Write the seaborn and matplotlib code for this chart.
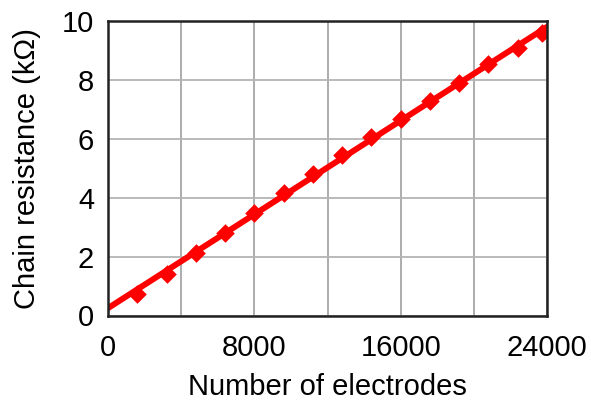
import matplotlib
matplotlib.use("Agg")
import matplotlib.pyplot as plt
import seaborn as sns
import pandas as pd

electrodes = [1600, 3200, 4800, 6400, 8000, 9600, 11200, 12800, 14400,
              16000, 17600, 19200, 20800, 22400, 23700]
resistance = [0.73, 1.41, 2.11, 2.81, 3.49, 4.15, 4.80, 5.45, 6.07,
              6.68, 7.28, 7.90, 8.53, 9.10, 9.58]
trend_x = [0, 24000]
trend_y = [0.25, 9.80]
x_ticks = [0, 8000, 16000, 24000]
x_grid = [0, 4000, 8000, 12000, 16000, 20000, 24000]
y_ticks = [0, 2, 4, 6, 8, 10]

sns.set_theme(style="white")
plt.rcParams['font.family'] = ['Liberation Sans', 'DejaVu Sans']

fig = plt.figure(figsize=(5.91, 4.01), dpi=100)
ax = fig.add_axes([108/591, 85.5/401, 439/591, 294.5/401])

df_pts = pd.DataFrame({"x": electrodes, "y": resistance})
df_fit = pd.DataFrame({"x": trend_x, "y": trend_y})

for gx in x_grid:
    ax.axvline(gx, color="#a6a6a6", lw=1.3, zorder=0)
for gy in y_ticks:
    ax.axhline(gy, color="#b4b4b4", lw=1.3, zorder=0)

sns.lineplot(data=df_fit, x="x", y="y", ax=ax, color="#ff0000", lw=4.3,
             zorder=3, legend=False)
sns.scatterplot(data=df_pts, x="x", y="y", ax=ax, marker="D", s=90,
                color="#ff0000", edgecolor="#ff0000", linewidth=0, zorder=4,
                legend=False)

ax.set_xlim(0, 24000)
ax.set_ylim(0, 10)
ax.set_xticks(x_ticks)
ax.set_yticks(y_ticks)
ax.set_xticklabels([str(v) for v in x_ticks])
ax.set_yticklabels([str(v) for v in y_ticks])
ax.tick_params(axis="both", labelsize=21, length=0, colors="black")
ax.tick_params(axis="x", pad=13)
ax.tick_params(axis="y", pad=10)
ax.set_xlabel("Number of electrodes", fontsize=21, labelpad=8, color="black")
ax.set_ylabel("Chain resistance (kΩ)", fontsize=21, labelpad=15, color="black")

for sp in ax.spines.values():
    sp.set_visible(True)
    sp.set_color("#222222")
    sp.set_linewidth(1.8)
    sp.set_zorder(5)

fig.savefig("out.png", dpi=100)
